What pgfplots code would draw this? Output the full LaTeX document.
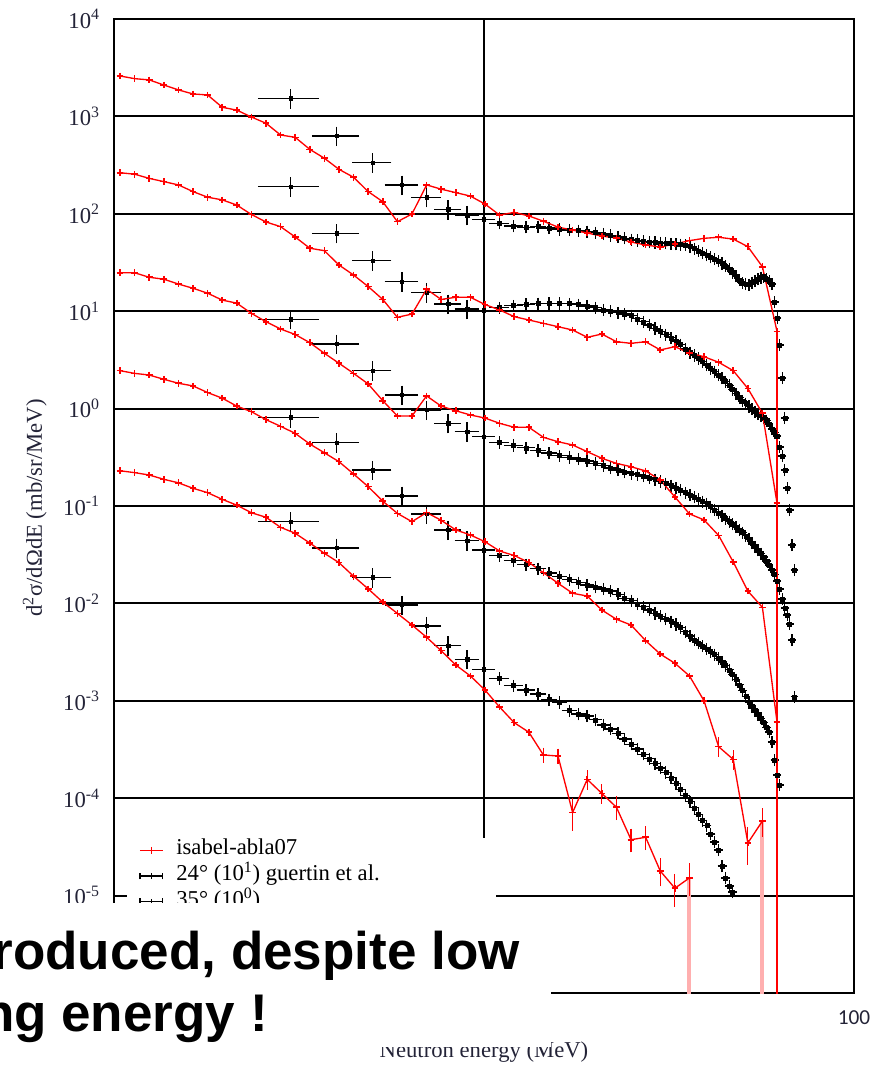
\documentclass[border=0pt]{standalone}
\usepackage{pgfplots}
\usepackage{pgfplotstable}
\pgfplotsset{compat=1.18}
\usepackage{fontspec}
\setmainfont{Liberation Serif}
\newfontfamily\arialfont{Liberation Sans}
\newfontfamily\calibrifont{Carlito}
\definecolor{pinkbar}{RGB}{255,175,175}
\definecolor{ticktext}{RGB}{35,35,55}

\pgfplotstableread{
E c1 c2 c3 c4 c5
1.038 2600 264 24.8 2.45 0.230
1.137 2440 255 24.8 2.30 0.220
1.245 2370 231 22.3 2.21 0.208
1.363 2100 214 21.3 2.00 0.188
1.493 1870 198 19.0 1.82 0.173
1.635 1700 169 17.2 1.71 0.152
1.791 1660 148 15.3 1.46 0.137
1.961 1240 139 13.0 1.28 0.117
2.147 1160 123 12.1 1.06 0.102
2.351 986 98.4 9.5 0.93 0.0853
2.575 850 82.4 7.8 0.77 0.0766
2.820 644 73.8 6.56 0.658 0.0604
3.088 610 57.8 5.77 0.557 0.0525
3.382 459 44.3 4.75 0.433 0.0417
3.703 372 41.8 3.70 0.352 0.0327
4.056 286 29.8 2.92 0.285 0.0262
4.442 237 23.5 2.30 0.213 0.0190
4.864 169 17.9 1.79 0.158 0.0141
5.327 133 13.2 1.205 0.112 0.0103
5.833 83 8.65 0.84 0.084 0.0079
6.388 99.5 9.35 0.84 0.069 0.0060
6.996 198 16.8 1.35 0.0857 0.00449
7.661 179 13.2 1.06 0.0713 0.00327
8.390 165 13.9 0.95 0.0568 0.00233
9.188 152 13.9 0.86 0.0504 0.0018
10.06 126 11.7 0.80 0.043 0.00129
11.02 97 10.3 0.706 0.0345 8.63e-4
12.07 103.5 8.79 0.643 0.031 5.96e-4
13.22 95 8.12 0.643 0.0263 4.76e-4
14.47 84 7.51 0.507 0.0207 2.78e-4
15.85 73 6.93 0.457 0.0161 2.71e-4
17.36 68 6.41 0.423 0.0127 7.13e-5
19.01 63.5 5.39 0.361 0.0119 1.56e-4
20.82 59 5.83 0.309 0.00855 1.12e-4
22.80 56.5 4.86 0.274 0.00687 8.07e-5
24.97 51.3 4.68 0.253 0.0060 3.75e-5
27.35 47.8 4.86 0.229 0.00414 3.97e-5
29.95 45.6 4.00 0.185 0.00302 1.79e-5
32.80 49 4.32 0.124 0.00243 1.19e-5
35.92 53 3.72 0.083 0.0018 1.52e-5
39.33 56 3.41 0.072 0.0010 nan
43.07 57.4 2.99 0.0498 3.38e-4 nan
47.17 55 2.45 0.0266 2.5e-4 nan
51.65 46 1.61 0.0134 3.47e-5 nan
56.56 28.6 0.895 0.0091 5.83e-5 nan
61.94 6.2 0.107 6.05e-4 nan nan
}\redtab

\pgfplotstableread{
E Y
11 80.1
12 74.8
13 72.9
14 73.9
15 71.5
16 69.3
17 68.2
18 67.2
19 65.9
20 64.1
21 62.2
22 60.0
23 57.9
24 56.2
25 54.5
26 53.3
27 52.2
28 51.4
29 50.9
30 50.4
31 49.8
32 49.3
33 48.9
34 48.4
35 47.9
36 46.0
37 43.9
38 41.7
39 39.6
40 37.7
41 35.9
42 34.4
43 32.6
44 31.0
45 29.2
46 27.2
47 25.0
48 22.9
49 20.9
50 19.4
51 19.1
52 18.8
53 19.7
54 20.5
55 21.3
56 22.2
57 22.7
58 21.4
59 20.3
60 19.0
61 12.4
62 8.5
63 4.5
64 2.06
65 0.80
}\blackA

\pgfplotstableread{
E Y
11 10.86
12 11.39
13 11.74
14 11.97
15 12.05
16 12.05
17 11.94
18 11.69
19 11.33
20 10.89
21 10.34
22 9.98
23 9.65
24 9.36
25 9.01
26 8.36
27 7.78
28 7.22
29 6.67
30 6.20
31 5.77
32 5.33
33 4.94
34 4.54
35 4.09
36 3.77
37 3.52
38 3.28
39 3.05
40 2.80
41 2.59
42 2.40
43 2.21
44 2.05
45 1.90
46 1.74
47 1.57
48 1.42
49 1.30
50 1.20
51 1.125
52 1.053
53 0.99
54 0.93
55 0.884
56 0.85
57 0.81
58 0.753
59 0.695
60 0.617
61 0.568
62 0.523
63 0.403
64 0.326
65 0.234
66 0.153
67 0.091
68 0.0398
69 0.022
}\blackB

\pgfplotstableread{
E Y
11 0.450
12 0.419
13 0.396
14 0.373
15 0.349
16 0.328
17 0.316
18 0.304
19 0.290
20 0.274
21 0.259
22 0.246
23 0.234
24 0.223
25 0.215
26 0.211
27 0.203
28 0.194
29 0.187
30 0.179
31 0.170
32 0.162
33 0.153
34 0.145
35 0.137
36 0.130
37 0.123
38 0.117
39 0.111
40 0.106
41 0.0986
42 0.0914
43 0.0852
44 0.0795
45 0.0743
46 0.0693
47 0.065
48 0.0609
49 0.0569
50 0.0533
51 0.0494
52 0.0458
53 0.0418
54 0.0382
55 0.0352
56 0.0325
57 0.030
58 0.0272
59 0.0248
60 0.0221
61 0.0199
62 0.0170
63 0.0141
64 0.0111
65 0.00897
66 0.0076
67 0.00614
68 0.00421
69 0.0011
}\blackC

\pgfplotstableread{
E Y
11 0.0310
12 0.0274
13 0.0251
14 0.0228
15 0.0205
16 0.0189
17 0.0176
18 0.0164
19 0.0154
20 0.0147
21 0.0141
22 0.0134
23 0.0124
24 0.0113
25 0.0107
26 0.0099
27 0.00923
28 0.00856
29 0.00791
30 0.00739
31 0.00693
32 0.00652
33 0.0061
34 0.00563
35 0.00511
36 0.00463
37 0.00422
38 0.00392
39 0.00365
40 0.00341
41 0.00319
42 0.00298
43 0.00273
44 0.0025
45 0.00229
46 0.00208
47 0.00186
48 0.00165
49 0.00146
50 0.00128
51 0.00111
52 9.65e-4
53 8.72e-4
54 7.93e-4
55 7.23e-4
56 6.63e-4
57 6.03e-4
58 5.36e-4
59 4.79e-4
60 3.78e-4
61 2.47e-4
62 1.73e-4
63 1.37e-4
}\blackD

\pgfplotstableread{
E Y
11 0.0017
12 0.00143
13 0.00129
14 0.00117
15 0.00103
16 9.65e-4
17 7.95e-4
18 7.3e-4
19 7.0e-4
20 6.38e-4
21 5.63e-4
22 5.15e-4
23 4.64e-4
24 4.06e-4
25 3.58e-4
26 3.21e-4
27 2.83e-4
28 2.54e-4
29 2.27e-4
30 2.05e-4
31 1.84e-4
32 1.62e-4
33 1.42e-4
34 1.23e-4
35 1.07e-4
36 9.2e-5
37 7.97e-5
38 6.82e-5
39 5.93e-5
40 5.23e-5
41 4.3e-5
42 3.55e-5
43 2.94e-5
44 2.01e-5
45 1.52e-5
46 1.25e-5
47 1.09e-5
}\blackE

\pgfplotsset{
  densestyle/.style={black, only marks, mark=square*, mark size=1.5pt, forget plot,
    error bars/.cd, x dir=both, x fixed=0.5, y dir=both, y fixed relative=0.08,
    error bar style={line width=1pt, black},
    error mark options={line width=1pt, mark size=2pt, black}},
  widestyle/.style={black, only marks, mark=square*, mark size=1.3pt,
    error bars/.cd, x dir=both, x fixed=0.5, y dir=both, y fixed relative=0.15,
    error bar style={line width=1pt, black},
    error mark options={line width=1pt, mark size=2.5pt, black}},
  redstyle/.style={red, line width=1pt, mark=+, mark size=2.5pt, mark options={line width=1.2pt, solid}},
  blackleg/.style={legend image code/.code={
    \draw[black, line width=1pt] (0pt,0pt) -- (17pt,0pt) (0pt,-2.5pt) -- (0pt,2.5pt) (17pt,-2.5pt) -- (17pt,2.5pt) (8.5pt,-2pt) -- (8.5pt,2pt);}},
}

\begin{document}
\begin{tikzpicture}
\useasboundingbox (0pt,0pt) rectangle (664.5pt,799.5pt);
\begin{axis}[
  at={(85.5pt,54.75pt)}, anchor=south west,
  scale only axis, width=555pt, height=730.5pt,
  xmode=log, ymode=log,
  xmin=1, xmax=100, ymin=1e-6, ymax=1e4,
  xtick={1,10,100}, xticklabels={,,100},
  ytick={1e-6,1e-5,1e-4,1e-3,1e-2,1e-1,1,10,100,1000,10000},
  yticklabels={,10\textsuperscript{-5},10\textsuperscript{-4},10\textsuperscript{-3},10\textsuperscript{-2},10\textsuperscript{-1},10\textsuperscript{0},10\textsuperscript{1},10\textsuperscript{2},10\textsuperscript{3},10\textsuperscript{4}},
  xminorticks=false, yminorticks=false,
  major tick length=0pt,
  xmajorgrids, ymajorgrids,
  grid style={black, line width=1.4pt},
  axis line style={black, line width=1.5pt},
  yticklabel style={font=\fontsize{17}{17}\selectfont, text=ticktext, inner sep=0pt, anchor=east, xshift=-10.5pt},
  xticklabel style={font=\calibrifont\fontsize{16}{16}\selectfont, text=ticktext, inner sep=0pt, anchor=north, yshift=-12.75pt},
  xlabel={Neutron energy (MeV)},
  xlabel style={font=\fontsize{17}{17}\selectfont, text=ticktext, at={(axis description cs:0.5,-0.0606)}, anchor=center, inner sep=0pt},
  ylabel={d\textsuperscript{2}σ/dΩdE (mb/sr/MeV)},
  ylabel style={font=\fontsize{17}{17}\selectfont, text=ticktext, at={(axis description cs:-0.107,0.498)}, anchor=center, inner sep=0pt},
  legend style={at={(0.0338,0.1591)}, anchor=north west, draw=none, fill=none, inner sep=0pt,
    font=\fontsize{17}{17}\selectfont, row sep=1.3pt,
    nodes={inner sep=0pt, text height=12.5pt, text depth=5.5pt},
    /tikz/every odd column/.append style={column sep=9.75pt}},
  legend cell align=left,
]
% pink lower error bars reaching below the axis
\addplot[pinkbar, line width=3pt, forget plot] coordinates {(35.92,1.52e-5) (35.92,1e-8)};
\addplot[pinkbar, line width=3pt, forget plot] coordinates {(56.56,5.83e-5) (56.56,1e-8)};
% dense black data
\addplot[densestyle] table[x=E,y=Y] {\blackA};
\addplot[densestyle] table[x=E,y=Y] {\blackB};
\addplot[densestyle] table[x=E,y=Y] {\blackC};
\addplot[densestyle] table[x=E,y=Y] {\blackD};
\addplot[densestyle] table[x=E,y=Y] {\blackE};
% model
\addplot[redstyle] table[x=E,y=c1] {\redtab};
\addlegendentry{isabel-abla07}
% wide-bin black data
\addplot[blackleg, widestyle] table {
E Y
3 1530
4 630
5 335
6 198
7 148
8 111
9 97
10 87.6
};
\addlegendentry{24° (10\textsuperscript{1}) guertin et al.}
\addplot[blackleg, widestyle] table {
E Y
3 190
4 63.1
5 33.0
6 20.1
7 15.5
8 11.9
9 10.5
10 10.2
};
\addlegendentry{35° (10\textsuperscript{0})}
\addplot[forget plot, widestyle] table {
E Y
3 8.26
4 4.61
5 2.45
6 1.38
7 0.967
8 0.707
9 0.579
10 0.515
};
\addplot[forget plot, widestyle] table {
E Y
3 0.814
4 0.447
5 0.234
6 0.127
7 0.0828
8 0.0567
9 0.044
10 0.0353
};
\addplot[forget plot, widestyle] table {
E Y
3 0.069
4 0.0371
5 0.0185
6 0.00963
7 0.00586
8 0.00368
9 0.00267
10 0.00211
};
\addplot[forget plot, redstyle] table[x=E,y=c2] {\redtab};
\addplot[forget plot, redstyle] table[x=E,y=c3] {\redtab};
\addplot[forget plot, redstyle] table[x=E,y=c4] {\redtab};
\addplot[forget plot, redstyle] table[x=E,y=c5] {\redtab};
\addplot[red, line width=1pt, forget plot] coordinates {(61.94,6.2) (61.94,1e-8)};
% model error bars
\addplot[red, only marks, mark=*, mark size=0pt, forget plot,
  error bars/.cd, y dir=both, y explicit relative,
  error bar style={line width=0.9pt, draw=red},
  error mark options={line width=0.9pt, mark size=2.5pt, draw=red}]
  table[x=E, y=Y, y error=R] {
E Y R
14.47 2.78e-4 0.1
15.85 2.71e-4 0.1
17.36 7.13e-5 0.3
19.01 1.56e-4 0.15
20.82 1.12e-4 0.15
22.80 8.07e-5 0.2
24.97 3.75e-5 0.2
27.35 3.97e-5 0.2
29.95 1.79e-5 0.25
32.80 1.19e-5 0.3
35.92 1.52e-5 0.3
43.07 3.38e-4 0.15
47.17 2.5e-4 0.15
51.65 3.47e-5 0.35
56.56 5.83e-5 0.25
61.94 6.05e-4 0.3
};
\fill[white] (rel axis cs:0.0176,0.1591) rectangle (rel axis cs:0.5162,0.0);
\end{axis}
% slide overlay box with text
\begin{scope}[x=0.75pt,y=0.75pt]
\fill[white] (0,19) rectangle (551,163);
\node[font=\arialfont\bfseries\fontsize{39.75}{39.75}\selectfont, anchor=base east, inner sep=0pt] at (520,96) {roduced, despite low};
\node[font=\arialfont\bfseries\fontsize{39.75}{39.75}\selectfont, anchor=base east, inner sep=0pt] at (268,34.3) {ng energy !};
\end{scope}
\end{tikzpicture}
\end{document}
